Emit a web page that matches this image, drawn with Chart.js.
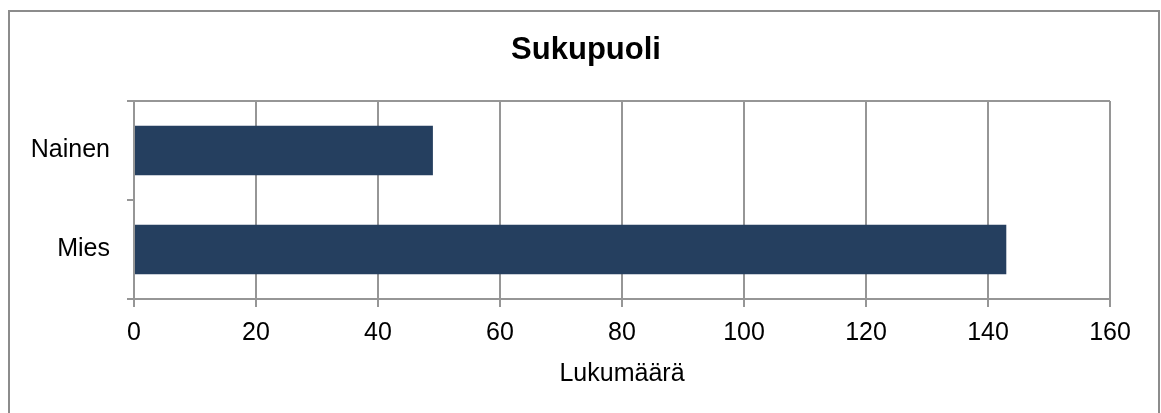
<!DOCTYPE html>
<html>
<head>
<meta charset="utf-8">
<script src="https://cdn.jsdelivr.net/npm/chart.js@4"></script>
<style>
  html, body { margin: 0; padding: 0; background: #fff; }
  #wrap { position: relative; width: 1161px; height: 413px; }
</style>
</head>
<body>
<div id="wrap"><canvas id="chart"></canvas></div>
<script>
const CATEGORIES = ["Nainen", "Mies"];
const COUNTS     = [49, 143];
const X_MIN = 0, X_MAX = 160, X_STEP = 20;
const TITLE   = "Sukupuoli";
const X_TITLE = "Lukumäärä";

const FONT = "'Liberation Sans', Arial, sans-serif";
const GRID = "#969696";
const BAR  = "#253f5f";

// outer frame + title centred on the frame (not on the plot)
const frame = {
  id: "frame",
  beforeDraw(chart) {
    const ctx = chart.ctx;
    ctx.save();
    ctx.fillStyle = "#fff";
    ctx.fillRect(0, 0, chart.width, chart.height);
    ctx.strokeStyle = "#8c8c8c";
    ctx.lineWidth = 2;
    ctx.strokeRect(9, 11, 1150, 500);
    ctx.restore();
  },
  afterDraw(chart) {
    const ctx = chart.ctx;
    ctx.save();
    ctx.font = "bold 31px " + FONT;
    ctx.fillStyle = "#000";
    ctx.textAlign = "center";
    ctx.textBaseline = "alphabetic";
    ctx.fillText(TITLE, 586, 59);
    ctx.restore();
  }
};

new Chart(document.getElementById("chart"), {
  type: "bar",
  plugins: [frame],
  data: {
    labels: CATEGORIES,
    datasets: [{ data: COUNTS, backgroundColor: BAR, borderWidth: 0, barPercentage: 0.5, categoryPercentage: 1 }]
  },
  options: {
    indexAxis: "y",
    animation: false, responsive: true, maintainAspectRatio: false,
    layout: { padding: { left: 0, right: 51, top: 101, bottom: 0 } },
    plugins: {
      legend: { display: false },
      tooltip: { enabled: false },
      title: { display: false }
    },
    scales: {
      x: {
        min: X_MIN, max: X_MAX,
        ticks: { stepSize: X_STEP, color: "#000", padding: 11, font: { family: FONT, size: 25 }, maxRotation: 0 },
        grid: { color: GRID, lineWidth: 2, tickLength: 8, tickColor: GRID },
        border: { color: GRID, width: 2 },
        title: { display: true, text: X_TITLE, color: "#000", font: { family: FONT, size: 25 }, padding: { top: 0, bottom: 24 } },
        afterFit(s) { s.height = 114; }
      },
      y: {
        ticks: { color: "#000", padding: 17, font: { family: FONT, size: 25 } },
        grid: {
          offset: true, lineWidth: 2, tickLength: 7, tickColor: GRID,
          color: c => c.index === 1 ? "rgba(0,0,0,0)" : GRID
        },
        border: { color: GRID, width: 2 },
        afterFit(s) { s.width = 134; }
      }
    }
  }
});
</script>
</body>
</html>
